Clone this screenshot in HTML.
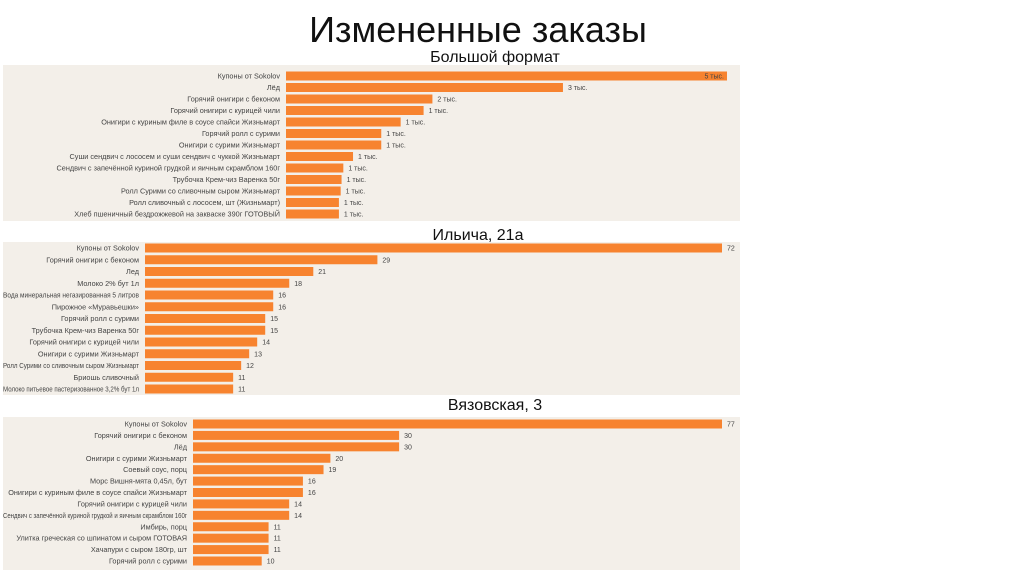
<!DOCTYPE html>
<html><head><meta charset="utf-8"><style>
body{margin:0;background:#fff;width:1024px;height:574px;overflow:hidden;font-family:"Liberation Sans",sans-serif}
svg{position:absolute;left:0;top:0}
</style></head><body>
<svg id="s" width="1024" height="574">
<text x="478" y="42" font-size="36" text-anchor="middle" fill="#111" font-family="Liberation Sans, sans-serif">Измененные заказы</text>
</svg>
<script>
const cats1=["Купоны от Sokolov","Лёд","Горячий онигири с беконом","Горячий онигири с курицей чили","Онигири с куриным филе в соусе спайси Жизньмарт","Горячий ролл с сурими","Онигири с сурими Жизньмарт","Суши сендвич с лососем и суши сендвич с чуккой Жизньмарт","Сендвич с запечённой куриной грудкой и яичным скрамблом 160г","Трубочка Крем-чиз Варенка 50г","Ролл Сурими со сливочным сыром Жизньмарт","Ролл сливочный с лососем, шт (Жизньмарт)","Хлеб пшеничный бездрожжевой на закваске 390г ГОТОВЫЙ"];
const vals1=[5000,3140,1660,1560,1300,1080,1080,760,650,630,620,600,600];
const labels1=["5 тыс.","3 тыс.","2 тыс.","1 тыс.","1 тыс.","1 тыс.","1 тыс.","1 тыс.","1 тыс.","1 тыс.","1 тыс.","1 тыс.","1 тыс."];
const cats2=["Купоны от Sokolov","Горячий онигири с беконом","Лед","Молоко 2% бут 1л","Вода минеральная негазированная 5 литров","Пирожное «Муравьешки»","Горячий ролл с сурими","Трубочка Крем-чиз Варенка 50г","Горячий онигири с курицей чили","Онигири с сурими Жизньмарт","Ролл Сурими со сливочным сыром Жизньмарт","Бриошь сливочный","Молоко питьевое пастеризованное 3,2% бут 1л"];
const vals2=[72,29,21,18,16,16,15,15,14,13,12,11,11];
const cats3=["Купоны от Sokolov","Горячий онигири с беконом","Лёд","Онигири с сурими Жизньмарт","Соевый соус, порц","Морс Вишня-мята 0,45л, бут","Онигири с куриным филе в соусе спайси Жизньмарт","Горячий онигири с курицей чили","Сендвич с запечённой куриной грудкой и яичным скрамблом 160г","Имбирь, порц","Улитка греческая со шпинатом и сыром ГОТОВАЯ","Хачапури с сыром 180гр, шт","Горячий ролл с сурими"];
const vals3=[77,30,30,20,19,16,16,14,14,11,11,11,10];
const NS="http://www.w3.org/2000/svg";
const svg=document.getElementById('s');
function mk(tag,attrs,parent){const e=document.createElementNS(NS,tag);for(const k in attrs)e.setAttribute(k,attrs[k]);(parent||svg).appendChild(e);return e;}
function panel(name,title,titleX,titleY,bgTop,bgBot,x0,xEnd,y0,y1,cats,vals,labels){
  const g=mk('g',{});
  
  
  const t=mk('text',{x:titleX,y:titleY,'font-size':16,'text-anchor':'middle',fill:'#111'},g);
  t.textContent=title;
  
  
  const bg=mk('rect',{x:3,y:bgTop,width:737,height:bgBot-bgTop,fill:'#f3efe9'},g);
  
  
  const max=Math.max(...vals);
  const xs=v=>x0+(xEnd-x0)*v/max;
  const step=(y1-y0)/(cats.length-1);
  cats.forEach((c,i)=>{
    const cy=y0+i*step;
    const lb=mk('text',{x:x0-6,y:cy+2.5,'font-size':7.3,'text-anchor':'end',fill:'#444'},g);
    lb.textContent=c;
    
    
    const avail=x0-6-3;
    if(lb.getComputedTextLength()>avail){lb.setAttribute('textLength',avail);lb.setAttribute('lengthAdjust','spacingAndGlyphs');}
    const r=mk('rect',{x:x0,y:cy-4.5,width:xs(vals[i])-x0,height:9,fill:'#f7832f'},g);
    
    
    const vl=mk('text',{x:xs(vals[i])+(i===0&&labels?-3:5),y:cy+2.5,'font-size':7,'text-anchor':(i===0&&labels)?'end':'start',fill:'#444'},g);
    vl.textContent=labels?labels[i]:String(vals[i]);
    
    
  });
}
panel('chart-large-format','Большой формат',495,62,65,221,286,727,76,214,cats1,vals1,labels1);
panel('chart-ilyicha-21a','Ильича, 21а',478,240,242,395,145,722,248,389,cats2,vals2,null);
panel('chart-vyazovskaya-3','Вязовская, 3',495,410,417,570,193,722,424,561,cats3,vals3,null);
</script>
</body></html>
